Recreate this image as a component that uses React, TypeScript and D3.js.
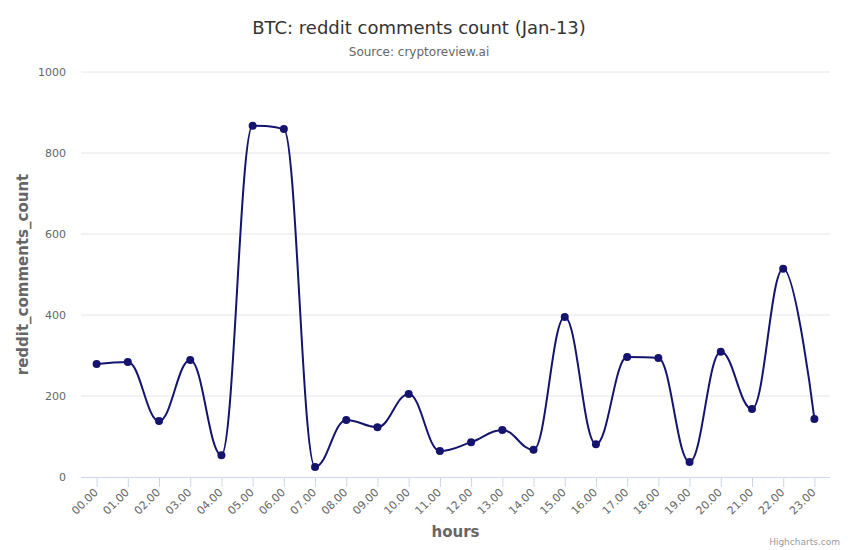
import React from 'react';
import * as d3 from 'd3';

const hours = ['00.00', '01.00', '02.00', '03.00', '04.00', '05.00', '06.00', '07.00', '08.00', '09.00', '10.00', '11.00',
  '12.00', '13.00', '14.00', '15.00', '16.00', '17.00', '18.00', '19.00', '20.00', '21.00', '22.00', '23.00'];
const comments = [279, 284, 138, 289, 54, 867, 859, 25, 141, 123, 205, 64,
  86, 116, 67, 395, 81, 296, 294, 37, 309, 168, 514, 143];
const yTicks = [0, 200, 400, 600, 800, 1000];

const W = 850;
const H = 550;
const left = 81;
const right = 830;
const top = 72;
const bottom = 477;
const font = 'DejaVu Sans, sans-serif';
const lineColor = '#14146e';

// highcharts style spline: smoothing 1.5, clamped control points
function splinePath(pts: [number, number][]) {
  const p = d3.path();
  const smoothing = 1.5;
  const denom = smoothing + 1;
  const rc: ([number, number] | null)[] = [];
  pts.forEach(([x, y], i) => {
    if (i === 0) {
      p.moveTo(x, y);
      rc.push(null);
      return;
    }
    const last = pts[i - 1];
    const next = pts[i + 1];
    let lcx = x, lcy = y;
    if (next) {
      const [lx, ly] = last;
      const [nx, ny] = next;
      lcx = (smoothing * x + lx) / denom;
      lcy = (smoothing * y + ly) / denom;
      const rcx = (smoothing * x + nx) / denom;
      let rcy = (smoothing * y + ny) / denom;
      if (rcx !== lcx) {
        const corr = ((rcy - lcy) * (rcx - x)) / (rcx - lcx) + y - rcy;
        lcy += corr;
        rcy += corr;
      }
      if (lcy > ly && lcy > y) { lcy = Math.max(ly, y); rcy = 2 * y - lcy; }
      else if (lcy < ly && lcy < y) { lcy = Math.min(ly, y); rcy = 2 * y - lcy; }
      if (rcy > ny && rcy > y) { rcy = Math.max(ny, y); lcy = 2 * y - rcy; }
      else if (rcy < ny && rcy < y) { rcy = Math.min(ny, y); lcy = 2 * y - rcy; }
      rc.push([rcx, rcy]);
    } else {
      rc.push(null);
    }
    const prev = rc[i - 1] || last;
    p.bezierCurveTo(prev[0], prev[1], lcx, lcy, x, y);
  });
  return p.toString();
}

export default function App() {
  const x = d3.scaleBand().domain(hours).range([left, right]);
  const y = d3.scaleLinear().domain([0, 1000]).range([bottom, top]);
  const cx = (h: string) => (x(h) as number) + x.bandwidth() / 2;
  const pts: [number, number][] = hours.map((h, i) => [cx(h), y(comments[i])]);

  return (
    <svg width={W} height={H} style={{ position: 'absolute', left: 0, top: 0, fontFamily: font }}>
      <rect width={W} height={H} fill="#fff" />
      <text x={419} y={34} textAnchor="middle" fontSize={18} fill="#333">BTC: reddit comments count (Jan-13)</text>
      <text x={419} y={56} textAnchor="middle" fontSize={12} fill="#666">Source: cryptoreview.ai</text>

      {yTicks.map(t => (
        <g key={t}>
          {t > 0 && <line x1={left} x2={right} y1={y(t)} y2={y(t)} stroke="#e6e6e6" />}
          <text x={66} y={y(t) + 4} textAnchor="end" fontSize={11} fill="#666">{t}</text>
        </g>
      ))}
      <text transform={`translate(28,${(top + bottom) / 2}) rotate(-90)`} textAnchor="middle"
        fontSize={15} fontWeight="bold" fill="#666">reddit_comments_count</text>

      <line x1={left} x2={right} y1={bottom + 0.5} y2={bottom + 0.5} stroke="#ccd6eb" />
      {hours.map(h => (
        <g key={h}>
          <line x1={cx(h) + 0.5} x2={cx(h) + 0.5} y1={bottom} y2={bottom + 10} stroke="#ccd6eb" />
          <text transform={`translate(${cx(h) + 2},${bottom + 16}) rotate(-45)`} textAnchor="end"
            fontSize={11} fill="#666">{h}</text>
        </g>
      ))}
      <text x={(left + right) / 2} y={537} textAnchor="middle" fontSize={15} fontWeight="bold" fill="#666">hours</text>

      <path d={splinePath(pts)} fill="none" stroke={lineColor} strokeWidth={2} />
      {pts.map((p, i) => (
        <circle key={i} cx={p[0]} cy={p[1]} r={4} fill={lineColor} />
      ))}

      <text x={840} y={545} textAnchor="end" fontSize={9} fill="#999">Highcharts.com</text>
    </svg>
  );
}
